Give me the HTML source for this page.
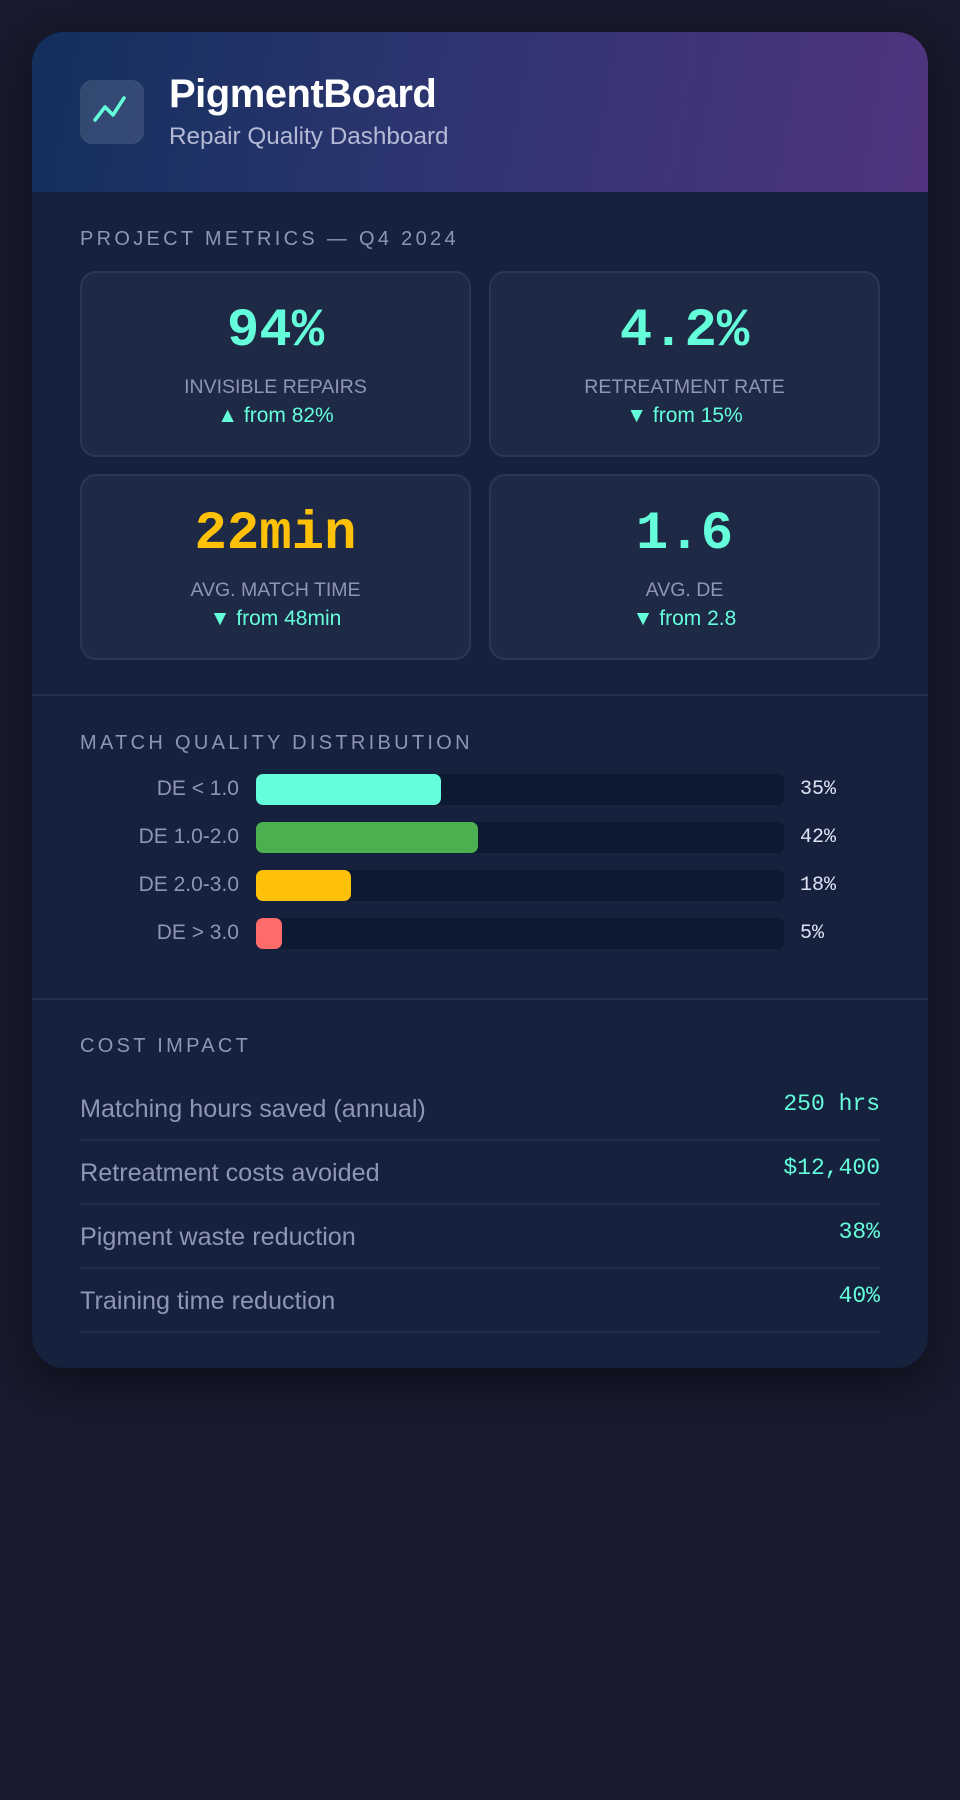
<!DOCTYPE html>
<html><head><meta charset="utf-8"><style>
*{box-sizing:border-box;margin:0;padding:0}
body{width:960px;height:1800px;background:#181a2d;font-family:"Liberation Sans",sans-serif;position:relative;overflow:hidden}
.card{position:absolute;left:32px;top:32px;width:896px;height:1336px;background:#16213e;border-radius:32px;overflow:hidden;box-shadow:0 12px 40px rgba(0,0,0,.45)}
.hdr{height:160px;background:linear-gradient(100deg,#132f5c 0%,#2d3570 45%,#51347f 100%);position:relative}
.icon{position:absolute;left:48px;top:48px;width:64px;height:64px;border-radius:12px;background:rgba(255,255,255,.12)}
.title{position:absolute;left:137px;top:40px;color:#fff;font-size:40px;font-weight:bold;letter-spacing:-0.5px}
.sub{position:absolute;left:137px;top:91px;color:#b4b9d6;font-size:24.3px}
.lbl{position:absolute;left:48px;color:#8d96b4;font-size:20px;letter-spacing:3.3px}
.m{position:absolute;width:391px;height:186px;background:#1e2946;border:2px solid #2a3655;border-radius:16px;text-align:center}
.mv{position:absolute;left:0;right:0;top:28px;font-family:"Liberation Mono",monospace;font-weight:bold;font-size:54px;color:#64ffda}
.ml{position:absolute;left:0;right:0;top:103px;font-size:19.5px;color:#8d96b4}
.mc{position:absolute;left:0;right:0;top:131px;font-size:21px;color:#64ffda}
.div{position:absolute;left:0;right:0;height:2px;background:#222e4c}
.bl{position:absolute;width:207px;left:0;text-align:right;color:#8d96b4;font-size:21px}
.tr{position:absolute;left:224px;width:528px;height:31px;background:#0b1931;border-radius:7px}
.fill{position:absolute;left:0;top:0;height:31px;border-radius:7px}
.bv{position:absolute;left:768px;color:#dfe4f5;font-family:"Liberation Mono",monospace;font-size:20px}
.row{position:absolute;left:48px;width:800px;height:64px;border-bottom:2px solid #222e4c}
.rl{position:absolute;left:0;top:18px;color:#8d96b4;font-size:25.2px}
.rv{position:absolute;right:0;top:14px;color:#64ffda;font-family:"Liberation Mono",monospace;font-size:23px}
</style></head><body>
<div class="card">
 <div class="hdr">
  <div class="icon"><svg width="64" height="64"><polyline points="15,40 25,27 33,35 44,18" fill="none" stroke="#64ffda" stroke-width="3.5" stroke-linecap="round" stroke-linejoin="round"/></svg></div>
  <div class="title">PigmentBoard</div>
  <div class="sub">Repair Quality Dashboard</div>
 </div>
 <div class="lbl" style="top:196px">PROJECT METRICS — Q4 2024</div>
 <div class="m" style="left:48px;top:239px"><div class="mv">94%</div><div class="ml">INVISIBLE REPAIRS</div><div class="mc">▲ from 82%</div></div>
 <div class="m" style="left:457px;top:239px"><div class="mv">4.2%</div><div class="ml">RETREATMENT RATE</div><div class="mc">▼ from 15%</div></div>
 <div class="m" style="left:48px;top:442px"><div class="mv" style="color:#ffc107">22min</div><div class="ml">AVG. MATCH TIME</div><div class="mc">▼ from 48min</div></div>
 <div class="m" style="left:457px;top:442px"><div class="mv">1.6</div><div class="ml">AVG. DE</div><div class="mc">▼ from 2.8</div></div>
 <div class="div" style="top:662px"></div>
 <div class="lbl" style="top:700px">MATCH QUALITY DISTRIBUTION</div>
 <div id="bars"></div>
 <div class="div" style="top:966px"></div>
 <div class="lbl" style="top:1003px">COST IMPACT</div>
 <div class="row" style="top:1045px"><div class="rl">Matching hours saved (annual)</div><div class="rv">250 hrs</div></div>
 <div class="row" style="top:1109px"><div class="rl">Retreatment costs avoided</div><div class="rv">$12,400</div></div>
 <div class="row" style="top:1173px"><div class="rl">Pigment waste reduction</div><div class="rv">38%</div></div>
 <div class="row" style="top:1237px"><div class="rl">Training time reduction</div><div class="rv">40%</div></div>
</div>
<script>
const categories=["DE < 1.0","DE 1.0-2.0","DE 2.0-3.0","DE > 3.0"];
const values=[35,42,18,5];
const colors=["#64ffda","#4caf50","#ffc107","#ff6b6b"];
const host=document.getElementById('bars');
const trackW=528;
function xScale(v){return v/100*trackW;}
categories.forEach((c,i)=>{
 const top=742+i*48;
 const l=document.createElement('div');l.className='bl';l.style.top=(top+3)+'px';l.textContent=c;
 
 
 const t=document.createElement('div');t.className='tr';t.style.top=top+'px';
 
 
 const f=document.createElement('div');f.className='fill';f.style.width=xScale(values[i])+'px';f.style.background=colors[i];
 
 
 t.appendChild(f);
 const v=document.createElement('div');v.className='bv';v.style.top=(top+4)+'px';v.textContent=values[i]+'%';
 
 
 host.append(l,t,v);
});
</script>
</body></html>
